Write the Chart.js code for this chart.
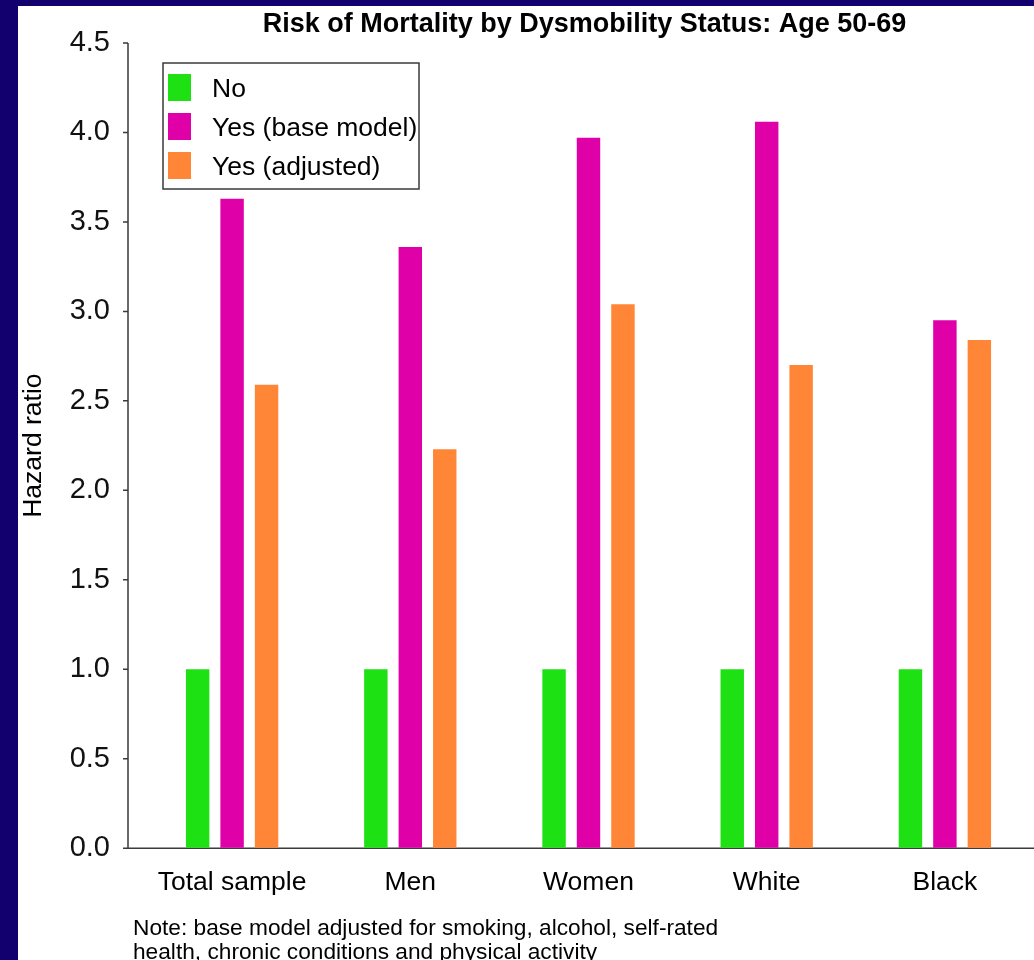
<!DOCTYPE html>
<html>
<head>
<meta charset="utf-8">
<script src="https://cdn.jsdelivr.net/npm/chart.js@4"></script>
<style>
  html, body { margin: 0; padding: 0; background: #12006e; }
  body { width: 1034px; height: 960px; overflow: hidden; position: relative; }
  #chart { position: absolute; left: 18px; top: 6px; background: #fff; }
</style>
</head>
<body>
<canvas id="chart" width="1016" height="954"></canvas>
<script>
// values
const categories = ['Total sample', 'Men', 'Women', 'White', 'Black'];
const seriesNames = ['No', 'Yes (base model)', 'Yes (adjusted)'];
const noValues = [1.0, 1.0, 1.0, 1.0, 1.0];
const baseModelValues = [3.63, 3.36, 3.97, 4.06, 2.95];
const adjustedValues = [2.59, 2.23, 3.04, 2.70, 2.84];
const seriesColors = ['#1ee114', '#e000a8', '#ff8537'];

const titleText = 'Risk of Mortality by Dysmobility Status: Age 50-69';
const noteLines = [
    'Note: base model adjusted for smoking, alcohol, self-rated',
    'health, chronic conditions and physical activity'
];

const FONT = '"Liberation Sans", Arial, Helvetica, sans-serif';

// axis lines, title, legend box and note are drawn by hand
const extras = {
    id: 'extras',
    beforeDatasetsDraw(chart) {
        const c = chart.ctx, a = chart.chartArea, y = chart.scales.y;
        const axisX = a.left - 15;
        c.save();
        c.strokeStyle = '#3a3a3a';
        c.lineWidth = 1.5;
        c.beginPath();
        c.moveTo(axisX, a.top);
        c.lineTo(axisX, a.bottom);
        c.moveTo(axisX - 5, a.bottom);
        c.lineTo(a.right, a.bottom);
        y.ticks.forEach(t => {
            const py = y.getPixelForValue(t.value);
            c.moveTo(axisX - 5, py);
            c.lineTo(axisX, py);
        });
        c.stroke();
        c.restore();
    },
    afterDraw(chart) {
        const c = chart.ctx, a = chart.chartArea;
        c.save();
        c.fillStyle = '#000';
        c.font = 'bold 27px ' + FONT;
        c.textAlign = 'center';
        c.textBaseline = 'alphabetic';
        c.fillText(titleText, (a.left + a.right) / 2 - 4, 26);

        // legend
        const bx = 145, by = 57, bw = 256, bh = 126;
        c.fillStyle = '#fff';
        c.fillRect(bx, by, bw, bh);
        c.strokeStyle = '#3a3a3a';
        c.lineWidth = 1.5;
        c.strokeRect(bx, by, bw, bh);
        c.textAlign = 'left';
        c.font = '26.5px ' + FONT;
        chart.data.datasets.forEach((ds, i) => {
            const top = by + 11 + i * 39;
            c.fillStyle = ds.backgroundColor;
            c.fillRect(bx + 5, top, 23, 27);
            c.fillStyle = '#000';
            c.fillText(ds.label, bx + 49, top + 23);
        });

        // note
        c.font = '22.7px ' + FONT;
        noteLines.forEach((line, i) => c.fillText(line, 115, 929 + i * 24));
        c.restore();
    }
};

new Chart(document.getElementById('chart'), {
    type: 'bar',
    data: {
        labels: categories,
        datasets: [
            { label: seriesNames[0], data: noValues, backgroundColor: seriesColors[0] },
            { label: seriesNames[1], data: baseModelValues, backgroundColor: seriesColors[1] },
            { label: seriesNames[2], data: adjustedValues, backgroundColor: seriesColors[2] }
        ]
    },
    options: {
        responsive: false,
        animation: false,
        devicePixelRatio: 1,
        categoryPercentage: 0.58,
        barPercentage: 0.68,
        layout: { padding: { top: 37, left: 0, right: 0, bottom: 42 } },
        plugins: {
            legend: { display: false },
            title: { display: false },
            tooltip: { enabled: false }
        },
        scales: {
            x: {
                grid: { display: false, drawTicks: false },
                border: { display: false },
                ticks: { color: '#000', font: { family: FONT, size: 26.5 }, padding: 19, maxRotation: 0 }
            },
            y: {
                min: 0,
                max: 4.5,
                // invisible tick marks only make room between labels and chart area
                grid: { drawOnChartArea: false, drawTicks: true, tickLength: 33, color: 'rgba(0,0,0,0)' },
                border: { display: false },
                ticks: {
                    stepSize: 0.5,
                    color: '#111',
                    padding: 0,
                    font: { family: FONT, size: 29 },
                    callback: v => v.toFixed(1)
                },
                title: {
                    display: true,
                    text: 'Hazard ratio',
                    color: '#000',
                    font: { family: FONT, size: 26.5 },
                    padding: 0
                },
                afterFit(scale) { scale.width = 125; }
            }
        }
    },
    plugins: [extras]
});
</script>
</body>
</html>
